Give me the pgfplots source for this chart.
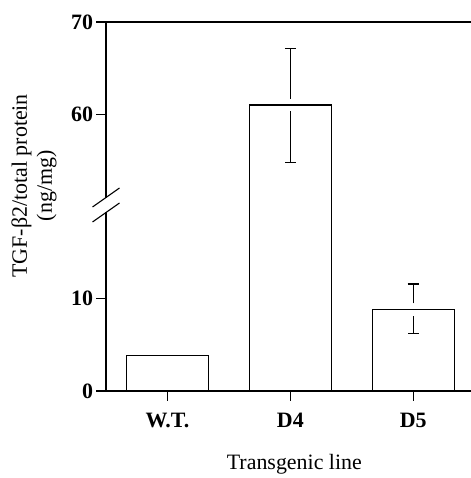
\documentclass[border=0pt]{standalone}
\usepackage{fontspec}
\setmainfont{Liberation Serif}
\usepackage{pgfplots}
\usepackage{pgfplotstable}
\pgfplotsset{compat=1.18}

% values in ng/mg; the axis is broken, values above 30 are drawn 30 lower
\pgfplotstableread{
x y
0 3.8
1 61.0
2 8.8
}\bars
\pgfplotstableread{
x y ep em
1 61.0 6.1 6.2
2 8.8 2.8 2.6
}\errs

\begin{document}
\begin{tikzpicture}
\begin{axis}[
    name=ax,
    scale only axis,
    width=365bp, height=369bp,
    xmin=-0.5, xmax=2.47,
    ymin=0, ymax=40,
    axis x line*=bottom,
    axis y line*=left,
    xtick={0,1,2},
    xticklabels={W.T., D4, D5},
    ytick={0,10,30,40},
    yticklabels={0,10,60,70},
    tick align=outside,
    major tick length=9.5bp,
    tick style={line width=1.1bp, black},
    axis line style={line width=1.1bp},
    ticklabel style={font=\fontsize{22}{26}\selectfont\bfseries},
    xticklabel style={yshift=-9bp},
    /pgf/number format/assume math mode=true,
    xlabel={Transgenic line},
    xlabel style={font=\fontsize{22}{24}\selectfont, at={(axis description cs:0.516,-0.214)}, anchor=base},
    ylabel={TGF-β2/total protein\\(ng/mg)},
    ylabel style={font=\fontsize{22}{25}\selectfont, align=center, at={(axis description cs:-0.135,0.556)}, anchor=south, inner sep=0pt},
]
\addplot[ybar, bar width=0.67, fill=white, draw=black, line width=1.1bp]
    table[x=x, y expr={\thisrow{y} - 30*(\thisrow{y}>30)}] {\bars};
% error bars, upper and lower halves, with a small gap at the bar top
\addplot[draw=none, mark=none, forget plot,
    error bars/.cd, y dir=plus, y explicit,
    error bar style={draw=black, line width=1.3bp},
    error mark options={draw=black, rotate=90, mark size=5.5bp, line width=1.3bp}]
    table[x=x, y expr={\thisrow{y} - 30*(\thisrow{y}>30) + 0.7}, y error plus expr={\thisrow{ep}-0.7}] {\errs};
\addplot[draw=none, mark=none, forget plot,
    error bars/.cd, y dir=minus, y explicit,
    error bar style={draw=black, line width=1.3bp},
    error mark options={draw=black, rotate=90, mark size=5.5bp, line width=1.3bp}]
    table[x=x, y expr={\thisrow{y} - 30*(\thisrow{y}>30) - 0.7}, y error minus expr={\thisrow{em}-0.7}] {\errs};
\end{axis}
% top line of the frame
\draw[line width=1.1bp] (ax.north west) -- (ax.north east);
% axis break
\fill[white] ([xshift=-3bp,yshift=179bp]ax.south west) rectangle ([xshift=3bp,yshift=193bp]ax.south west);
\draw[line width=1.1bp] ([shift={(-13.5bp,184bp)}]ax.south west) -- ([shift={(13.5bp,203bp)}]ax.south west);
\draw[line width=1.1bp] ([shift={(-13.5bp,169bp)}]ax.south west) -- ([shift={(13.5bp,188bp)}]ax.south west);
\pgfresetboundingbox
\path ([xshift=-106bp,yshift=-87bp]ax.south west) rectangle ([yshift=22bp]ax.north east);
\end{tikzpicture}
\end{document}
